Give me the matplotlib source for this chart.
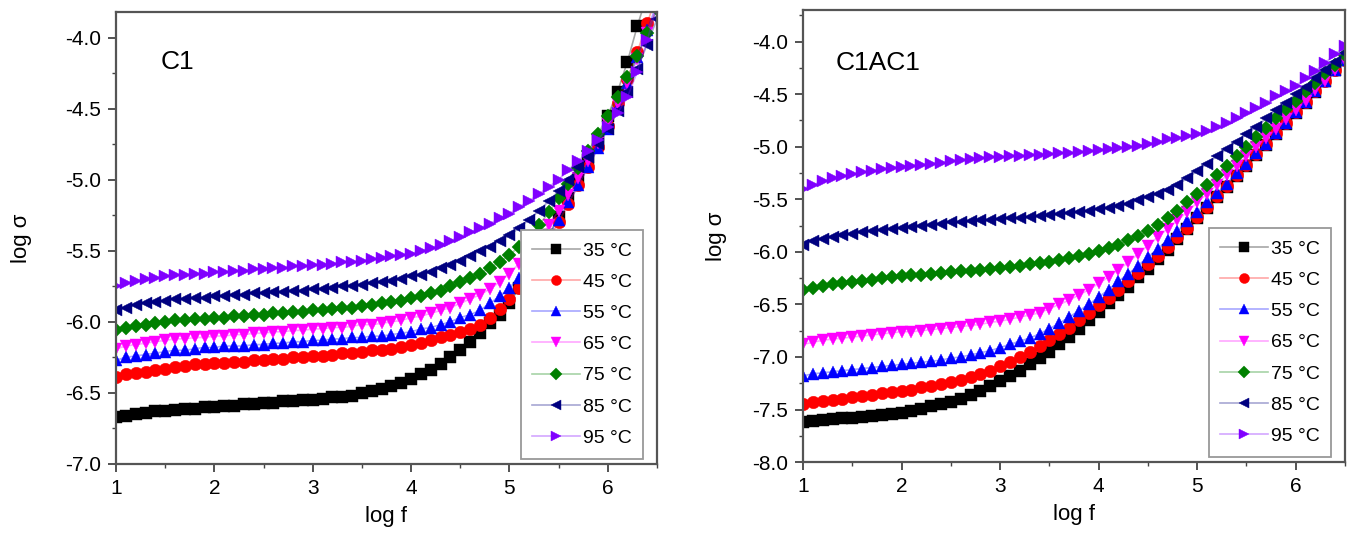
import matplotlib.pyplot as plt
import matplotlib.colors as mcolors
import numpy as np
from matplotlib.ticker import MultipleLocator

plt.rcParams['font.family'] = ['Liberation Sans', 'DejaVu Sans']

# log f grid, 1.0 ... 6.5 in steps of 0.1
log_f = np.round(np.arange(1.0, 6.55, 0.1), 1)

labels = ['35 °C', '45 °C', '55 °C', '65 °C', '75 °C', '85 °C', '95 °C']
colors = ['#000000', '#ff0000', '#0000ff', '#ff00ff', '#008000', '#000080', '#8000ff']
markers = ['s', 'o', '^', 'v', 'D', '<', '>']

# ---- C1 : log sigma ----
c1_35 = [-6.67, -6.66, -6.65, -6.64, -6.63, -6.63, -6.62, -6.61, -6.61, -6.60,
         -6.60, -6.59, -6.59, -6.58, -6.58, -6.57, -6.57, -6.56, -6.56, -6.55,
         -6.55, -6.54, -6.53, -6.53, -6.52, -6.50, -6.49, -6.47, -6.45, -6.43,
         -6.40, -6.37, -6.34, -6.30, -6.25, -6.20, -6.14, -6.08, -6.01, -5.95,
         -5.87, -5.76, -5.63, -5.51, -5.39, -5.26, -5.13, -5.00, -4.86, -4.72,
         -4.55, -4.38, -4.17, -3.92, -3.70, -3.48]
c1_45 = [-6.39, -6.37, -6.36, -6.35, -6.34, -6.33, -6.32, -6.31, -6.30, -6.30,
         -6.29, -6.29, -6.28, -6.28, -6.27, -6.27, -6.26, -6.26, -6.25, -6.25,
         -6.24, -6.24, -6.23, -6.22, -6.22, -6.21, -6.20, -6.20, -6.19, -6.18,
         -6.16, -6.15, -6.13, -6.11, -6.09, -6.07, -6.05, -6.02, -5.97, -5.91,
         -5.84, -5.76, -5.66, -5.55, -5.43, -5.30, -5.17, -5.04, -4.91, -4.77,
         -4.62, -4.46, -4.29, -4.10, -3.90, -3.70]
c1_55 = [-6.27, -6.25, -6.24, -6.23, -6.22, -6.21, -6.20, -6.20, -6.19, -6.18,
         -6.18, -6.17, -6.17, -6.17, -6.16, -6.16, -6.15, -6.15, -6.14, -6.14,
         -6.13, -6.13, -6.12, -6.12, -6.11, -6.11, -6.10, -6.10, -6.09, -6.08,
         -6.07, -6.05, -6.04, -6.02, -6.00, -5.97, -5.95, -5.92, -5.87, -5.82,
         -5.76, -5.69, -5.60, -5.50, -5.39, -5.28, -5.16, -5.04, -4.91, -4.78,
         -4.64, -4.49, -4.32, -4.14, -3.95, -3.76]
c1_65 = [-6.19, -6.17, -6.16, -6.15, -6.14, -6.13, -6.12, -6.12, -6.11, -6.11,
         -6.10, -6.10, -6.09, -6.09, -6.08, -6.08, -6.07, -6.07, -6.06, -6.06,
         -6.05, -6.05, -6.04, -6.04, -6.03, -6.02, -6.02, -6.01, -6.00, -5.99,
         -5.97, -5.96, -5.94, -5.92, -5.90, -5.87, -5.84, -5.81, -5.77, -5.72,
         -5.66, -5.59, -5.51, -5.42, -5.32, -5.22, -5.11, -4.99, -4.87, -4.74,
         -4.61, -4.47, -4.32, -4.15, -3.97, -3.78]
c1_75 = [-6.06, -6.04, -6.03, -6.02, -6.01, -6.00, -5.99, -5.99, -5.98, -5.98,
         -5.97, -5.97, -5.96, -5.96, -5.95, -5.95, -5.94, -5.94, -5.93, -5.93,
         -5.92, -5.92, -5.91, -5.90, -5.90, -5.89, -5.88, -5.87, -5.86, -5.85,
         -5.83, -5.82, -5.80, -5.78, -5.75, -5.72, -5.69, -5.66, -5.62, -5.58,
         -5.53, -5.47, -5.40, -5.32, -5.23, -5.13, -5.03, -4.92, -4.80, -4.68,
         -4.55, -4.42, -4.28, -4.13, -3.97, -3.80]
c1_85 = [-5.92, -5.90, -5.88, -5.87, -5.86, -5.85, -5.84, -5.84, -5.83, -5.83,
         -5.82, -5.82, -5.81, -5.81, -5.80, -5.80, -5.79, -5.79, -5.78, -5.78,
         -5.77, -5.77, -5.76, -5.75, -5.75, -5.74, -5.73, -5.72, -5.71, -5.70,
         -5.68, -5.67, -5.65, -5.62, -5.60, -5.57, -5.54, -5.50, -5.47, -5.43,
         -5.39, -5.34, -5.28, -5.22, -5.15, -5.08, -5.00, -4.91, -4.84, -4.75,
         -4.64, -4.52, -4.38, -4.22, -4.05, -3.87]
c1_95 = [-5.75, -5.73, -5.71, -5.70, -5.69, -5.68, -5.67, -5.67, -5.66, -5.66,
         -5.65, -5.65, -5.64, -5.64, -5.63, -5.63, -5.62, -5.62, -5.61, -5.61,
         -5.60, -5.60, -5.59, -5.58, -5.58, -5.57, -5.56, -5.55, -5.54, -5.53,
         -5.52, -5.50, -5.48, -5.46, -5.43, -5.40, -5.37, -5.34, -5.31, -5.27,
         -5.24, -5.19, -5.15, -5.10, -5.05, -5.00, -4.93, -4.87, -4.80, -4.72,
         -4.63, -4.53, -4.42, -4.24, -4.02, -3.78]

# ---- C1AC1 : log sigma ----
c1ac1_35 = [-7.62, -7.61, -7.60, -7.59, -7.58, -7.58, -7.57, -7.56, -7.55, -7.54,
            -7.53, -7.51, -7.49, -7.47, -7.45, -7.43, -7.40, -7.36, -7.32, -7.28,
            -7.23, -7.18, -7.13, -7.07, -7.01, -6.95, -6.88, -6.81, -6.73, -6.65,
            -6.57, -6.49, -6.41, -6.33, -6.24, -6.16, -6.07, -5.98, -5.88, -5.78,
            -5.68, -5.58, -5.48, -5.38, -5.28, -5.18, -5.08, -4.98, -4.88, -4.78,
            -4.68, -4.58, -4.48, -4.37, -4.27, -4.17]
c1ac1_45 = [-7.45, -7.43, -7.42, -7.41, -7.40, -7.38, -7.37, -7.36, -7.34, -7.33,
            -7.32, -7.31, -7.29, -7.28, -7.26, -7.24, -7.22, -7.19, -7.16, -7.13,
            -7.09, -7.05, -7.00, -6.95, -6.90, -6.84, -6.78, -6.72, -6.65, -6.58,
            -6.51, -6.44, -6.36, -6.28, -6.20, -6.12, -6.04, -5.95, -5.86, -5.77,
            -5.67, -5.57, -5.47, -5.37, -5.27, -5.17, -5.07, -4.97, -4.87, -4.77,
            -4.67, -4.57, -4.47, -4.37, -4.27, -4.17]
c1ac1_55 = [-7.18, -7.16, -7.15, -7.14, -7.13, -7.12, -7.11, -7.10, -7.09, -7.08,
            -7.07, -7.06, -7.05, -7.04, -7.03, -7.01, -7.00, -6.98, -6.96, -6.94,
            -6.91, -6.88, -6.85, -6.82, -6.78, -6.73, -6.68, -6.62, -6.56, -6.50,
            -6.43, -6.36, -6.28, -6.21, -6.13, -6.05, -5.97, -5.89, -5.80, -5.71,
            -5.62, -5.53, -5.44, -5.35, -5.25, -5.16, -5.06, -4.97, -4.87, -4.77,
            -4.67, -4.57, -4.47, -4.37, -4.27, -4.17]
c1ac1_65 = [-6.88, -6.86, -6.84, -6.83, -6.82, -6.81, -6.80, -6.79, -6.78, -6.77,
            -6.76, -6.76, -6.75, -6.74, -6.73, -6.72, -6.71, -6.70, -6.69, -6.67,
            -6.66, -6.64, -6.62, -6.60, -6.58, -6.54, -6.50, -6.46, -6.41, -6.36,
            -6.30, -6.24, -6.17, -6.10, -6.02, -5.94, -5.86, -5.78, -5.70, -5.62,
            -5.53, -5.45, -5.36, -5.27, -5.18, -5.09, -5.00, -4.92, -4.83, -4.74,
            -4.65, -4.56, -4.46, -4.37, -4.27, -4.17]
c1ac1_75 = [-6.36, -6.34, -6.32, -6.31, -6.30, -6.29, -6.28, -6.27, -6.25, -6.24,
            -6.23, -6.22, -6.22, -6.21, -6.20, -6.19, -6.18, -6.18, -6.17, -6.16,
            -6.15, -6.14, -6.13, -6.12, -6.11, -6.10, -6.08, -6.06, -6.04, -6.02,
            -5.99, -5.96, -5.93, -5.89, -5.85, -5.80, -5.74, -5.68, -5.61, -5.53,
            -5.45, -5.36, -5.27, -5.18, -5.09, -5.00, -4.91, -4.82, -4.73, -4.64,
            -4.56, -4.47, -4.39, -4.30, -4.22, -4.13]
c1ac1_85 = [-5.93, -5.90, -5.88, -5.86, -5.84, -5.83, -5.81, -5.80, -5.79, -5.78,
            -5.77, -5.76, -5.75, -5.74, -5.73, -5.72, -5.72, -5.71, -5.70, -5.70,
            -5.69, -5.68, -5.68, -5.67, -5.66, -5.65, -5.64, -5.63, -5.62, -5.61,
            -5.59, -5.58, -5.56, -5.54, -5.51, -5.48, -5.45, -5.41, -5.36, -5.30,
            -5.23, -5.16, -5.09, -5.02, -4.95, -4.88, -4.81, -4.73, -4.65, -4.58,
            -4.50, -4.43, -4.35, -4.27, -4.19, -4.11]
c1ac1_95 = [-5.40, -5.36, -5.33, -5.30, -5.28, -5.26, -5.24, -5.23, -5.21, -5.20,
            -5.19, -5.18, -5.17, -5.16, -5.15, -5.14, -5.13, -5.12, -5.11, -5.10,
            -5.10, -5.09, -5.09, -5.08, -5.08, -5.07, -5.06, -5.06, -5.05, -5.04,
            -5.03, -5.02, -5.01, -5.00, -4.99, -4.97, -4.95, -4.93, -4.92, -4.90,
            -4.88, -4.85, -4.81, -4.77, -4.73, -4.68, -4.63, -4.58, -4.52, -4.47,
            -4.42, -4.35, -4.28, -4.20, -4.12, -4.04]

c1 = [c1_35, c1_45, c1_55, c1_65, c1_75, c1_85, c1_95]
c1ac1 = [c1ac1_35, c1ac1_45, c1ac1_55, c1ac1_65, c1ac1_75, c1ac1_85, c1ac1_95]

fig = plt.figure(figsize=(13.52, 5.33), dpi=100)
ax1 = fig.add_axes([0.0858, 0.1295, 0.4001, 0.848])
ax2 = fig.add_axes([0.594, 0.133, 0.4008, 0.848])


def draw(ax, series, name, name_xy, ylim, yticks, ylab_x):
    for y, lab, c, m in zip(series, labels, colors, markers):
        ms = 7.5 if m == 'D' else 9
        r, g, b, _ = mcolors.to_rgba(c)
        # faint line, solid markers (the line only shows in the legend)
        ax.plot(log_f, y, marker=m, color=(r, g, b, 0.35), lw=1.2, ms=ms,
                mfc=c, mec=c, mew=0.3, label=lab)
    ax.set_xlim(1, 6.5)
    ax.set_ylim(*ylim)
    ax.set_yticks(yticks)
    ax.set_yticklabels(['%.1f' % t for t in yticks])
    ax.xaxis.set_minor_locator(MultipleLocator(0.5))
    ax.yaxis.set_minor_locator(MultipleLocator(0.25))
    ax.tick_params(which='major', direction='out', length=6, width=1.3,
                   labelsize=15, color='#444444', pad=5)
    ax.tick_params(which='minor', direction='out', length=3, width=1.0,
                   color='#444444')
    for sp in ax.spines.values():
        sp.set_color('#555555')
        sp.set_linewidth(1.6)
    ax.set_xlabel('log f', fontsize=16)
    ax.set_ylabel('log σ', fontsize=16)
    ax.xaxis.set_label_coords(0.5, -0.092)
    ax.yaxis.set_label_coords(ylab_x, 0.5)
    ax.text(name_xy[0], name_xy[1], name, fontsize=19, ha='left', va='center')
    leg = ax.legend(loc='lower right', bbox_to_anchor=(0.975, 0.012),
                    fontsize=14, labelspacing=0.7, handlelength=2.45,
                    handletextpad=0.15, borderpad=0.6, borderaxespad=0,
                    markerscale=0.8, fancybox=False, framealpha=1,
                    edgecolor='#999999')
    leg.get_frame().set_linewidth(1.3)


draw(ax1, c1, 'C1', (1.45, -4.17), (-7.0, -3.82),
     np.arange(-7.0, -3.9, 0.5), -0.155)
draw(ax2, c1ac1, 'C1AC1', (1.33, -4.2), (-8.0, -3.7),
     np.arange(-8.0, -3.9, 0.5), -0.14)

fig.savefig('out.png', dpi=100)
